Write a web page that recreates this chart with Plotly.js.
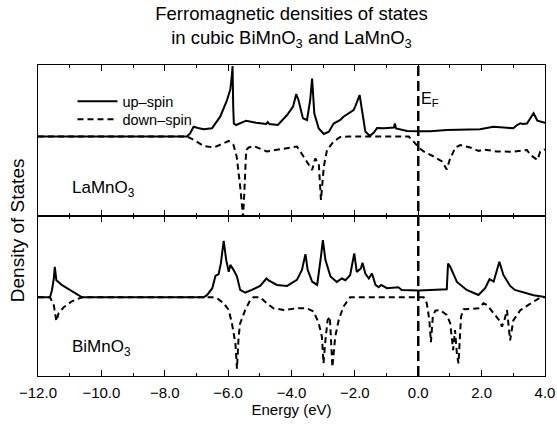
<!DOCTYPE html>
<html>
<head>
<meta charset="utf-8">
<script src="https://cdn.plot.ly/plotly-3.0.1.min.js"></script>
<style>html,body{margin:0;padding:0;background:#fff;}#chart{width:557px;height:424px;}</style>
</head>
<body>
<div id="chart"></div>
<script>
// ---- Data (energy in eV, density in arbitrary units; down-spin drawn negative) ----
const laUpE = [-12,-7.3,-7.2,-7.09,-6.95,-6.77,-6.51,-6.25,-6.05,-5.93,-5.88,-5.86,-5.84,-5.82,-5.75,-5.43,-5.12,-4.8,-4.75,-4.7,-4.43,-4.14,-3.95,-3.85,-3.78,-3.64,-3.51,-3.41,-3.35,-3.28,-3.14,-2.98,-2.82,-2.67,-2.46,-2.36,-2.04,-1.99,-1.85,-1.78,-1.67,-1.53,-1.4,-1.3,-1.09,-0.77,-0.74,-0.7,-0.35,0.02,0.38,0.9,1.43,1.95,2.37,3.0,3.1,3.22,3.3,3.43,3.64,3.76,4.0];
const laUp  = [0,0,3,9.8,8.5,7.2,8.2,19.8,35,47,62,70.5,30,13,11.5,15.8,13.8,12.5,14.5,12.5,11.5,21.5,30,42.5,36.5,18.2,16.5,36.5,58,23,8,2.5,4.8,13,16.5,19.8,26.5,29.8,41.5,26.5,5,0.5,4,8.5,8.2,9,13,8,5.5,5.2,5.2,6.5,7.2,7.2,9.8,8.2,11,13.2,12.5,13,23.2,15.8,13.8];

const laDownE = [-12,-7.3,-7.09,-6.9,-6.77,-6.45,-6.25,-5.98,-5.83,-5.73,-5.62,-5.53,-5.49,-5.43,-5.35,-5.2,-4.78,-4.46,-3.93,-3.83,-3.62,-3.35,-3.25,-3.14,-3.07,-2.98,-2.88,-2.67,-2.46,-2.2,-0.3,-0.25,-0.08,0.02,0.17,0.49,0.75,0.9,0.99,1.17,1.33,1.64,1.9,2.06,2.48,3.0,3.43,3.54,3.76,3.85,4.0];
const laDown  = [0,0,-3.3,-7,-9.5,-11,-8.5,-4.5,-8.5,-20,-50,-80,-57,-13.5,-11,-9.5,-15,-13.5,-11,-10,-20,-33.5,-22,-27,-63.5,-30,-13.5,-5,-0.5,0,0,-1.8,-7,-11,-15,-20,-25,-33,-23.5,-11,-8.5,-11,-14.5,-13,-15,-15.2,-13.5,-18.5,-23.5,-15,-12.8];

const biUpE = [-12,-11.62,-11.56,-11.5,-11.47,-11.42,-11.24,-10.98,-10.61,-6.77,-6.66,-6.5,-6.4,-6.3,-6.23,-6.14,-6.06,-5.98,-5.93,-5.83,-5.72,-5.62,-5.46,-5.25,-4.99,-4.79,-4.72,-4.46,-4.14,-3.83,-3.67,-3.56,-3.49,-3.35,-3.19,-3.07,-3.01,-2.93,-2.77,-2.57,-2.41,-2.3,-2.15,-2.02,-1.94,-1.81,-1.76,-1.67,-1.56,-1.46,-1.35,-1.25,-1.17,-0.99,-0.63,-0.52,0.02,0.38,0.9,0.94,1.01,1.22,1.53,1.9,2.11,2.25,2.38,2.56,2.69,2.9,3.05,3.64,4.0];
const biUp  = [0,0,7,18.7,30.3,17,12,7,0,0,2.3,9,21.3,23,33.7,56.3,37,25.3,32.3,27.3,20.7,7.3,4.7,7.3,11.3,18.7,16.7,12.3,11.3,17.3,27.3,43,27.3,15.7,12.3,40.7,57,37.3,20.7,15.3,18.7,17,22,43.7,25.3,28.7,34.3,23.7,18.7,23.7,12.3,10,12.3,9,10,7.3,6.7,7.3,8,33.7,30.3,15.3,7.3,2.3,9,18,15.7,35.3,22,11.3,7.3,2,0.3];

const biDownE = [-12,-11.62,-11.5,-11.42,-11.35,-11.19,-10.93,-10.61,-6.5,-6.35,-6.14,-5.98,-5.88,-5.77,-5.72,-5.67,-5.62,-5.46,-5.3,-5.2,-4.99,-4.78,-4.57,-4.25,-3.83,-3.51,-3.3,-3.14,-3.04,-2.99,-2.93,-2.86,-2.79,-2.71,-2.62,-2.51,-2.36,-2.15,0.17,0.27,0.35,0.4,0.46,0.54,0.69,0.9,1.01,1.1,1.16,1.22,1.27,1.35,1.43,1.74,1.9,2.06,2.17,2.38,2.59,2.64,2.72,2.8,2.9,3.0,3.22,3.54,3.85,4.0];
const biDown  = [0,0,-8,-24,-16,-10,-4,0,0,-1,-6,-12.7,-26,-46,-71.3,-39.7,-26,-12.7,-2.7,0,0,-6,-11,-12.7,-11,-11,-14.3,-26,-39.3,-66,-43,-22.7,-19.3,-69.7,-39.3,-22.7,-9.3,0,0,-6,-22.7,-44.7,-19.3,-13.3,-12.7,-17.7,-26,-52.7,-32.7,-56.3,-66,-19.3,-12,-11,-11,-6,-7.7,-16,-24.3,-29.3,-22.7,-12.7,-43,-23,-13,-6.3,-0.3,0];

const fermiEnergy = 0;
const seriesNames = ['up\u2013spin', 'down\u2013spin'];
const panelLabels = ['LaMnO<sub>3</sub>', 'BiMnO<sub>3</sub>'];
const xTicks = [-12,-10,-8,-6,-4,-2,0,2,4];
const xTickText = ['\u221212.0','\u221210.0','\u22128.0','\u22126.0','\u22124.0','\u22122.0','0.0','2.0','4.0'];

// ---- Styles ----
const FONT = 'Arial, "Liberation Sans", Helvetica, sans-serif';
const solid = {color:'#000', width:2};
const dashed = {color:'#000', width:2, dash:'6px,4px'};

const traces = [
  {x: laUpE, y: laUp, xaxis:'x2', yaxis:'y2', mode:'lines', line: solid, name: seriesNames[0], showlegend:true, legend:'legend'},
  {x: laDownE, y: laDown, xaxis:'x2', yaxis:'y2', mode:'lines', line: dashed, name: seriesNames[1], showlegend:true, legend:'legend2'},
  {x: biUpE, y: biUp, xaxis:'x', yaxis:'y', mode:'lines', line: solid, name: seriesNames[0], showlegend:false},
  {x: biDownE, y: biDown, xaxis:'x', yaxis:'y', mode:'lines', line: dashed, name: seriesNames[1], showlegend:false}
];

const split = 0.5145;
const xCommon = {
  range:[-12,4], tickmode:'array', tickvals:xTicks, ticktext:xTickText,
  ticks:'inside', ticklen:6, tickwidth:1, tickcolor:'#000',
  minor:{dtick:1, tick0:-12, ticks:'inside', ticklen:3, tickwidth:1, tickcolor:'#000'},
  showline:true, linecolor:'#000', linewidth:1, mirror:'allticks',
  showgrid:false, zeroline:false, fixedrange:true
};
const yCommon = {
  showline:true, linecolor:'#000', linewidth:1, mirror:true,
  ticks:'', showticklabels:false, showgrid:false, zeroline:false, fixedrange:true
};
const legendCommon = {xanchor:'left', yanchor:'top', bgcolor:'rgba(0,0,0,0)', borderwidth:0,
                      font:{family:FONT, size:14.5, color:'#000'}, itemwidth:40};

const layout = {
  width:557, height:424,
  margin:{l:38, r:12, t:65, b:48},
  paper_bgcolor:'#fff', plot_bgcolor:'#fff',
  font:{family:FONT, color:'#000', size:15},
  title:{text:'Ferromagnetic densities of states<br>in cubic BiMnO<sub>3</sub> and LaMnO<sub>3</sub>',
         font:{family:FONT, size:18.5, color:'#000'}, x:0.5, xref:'paper', yref:'container', y:0.952, yanchor:'middle'},
  xaxis: Object.assign({}, xCommon, {anchor:'y', domain:[0,1], ticklabelstandoff:3,
         tickfont:{family:FONT, size:15, color:'#000'},
         title:{text:'Energy (eV)', font:{family:FONT, size:15, color:'#000'}, standoff:4}}),
  xaxis2: Object.assign({}, xCommon, {anchor:'y2', domain:[0,1], matches:'x', showticklabels:false}),
  yaxis: Object.assign({}, yCommon, {domain:[0, split], range:[-78.5, 81]}),
  yaxis2: Object.assign({}, yCommon, {domain:[split, 1], range:[-79.5, 71.5]}),
  showlegend:true,
  legend: Object.assign({}, legendCommon, {x:0.068, y:0.935}),
  legend2: Object.assign({}, legendCommon, {x:0.068, y:0.877}),
  shapes:[
    {type:'line', xref:'x', yref:'paper', x0:fermiEnergy, x1:fermiEnergy, y0:0, y1:1,
     line:{color:'#000', width:2.5, dash:'10px,5px'}, layer:'above'}
  ],
  annotations:[
    {text:'E<sub>F</sub>', xref:'x', yref:'paper', x:fermiEnergy, y:0.89, xanchor:'left', yanchor:'middle',
     showarrow:false, xshift:1, font:{family:FONT, size:16, color:'#000'}},
    {text:panelLabels[0], xref:'paper', yref:'paper', x:0.063, y:0.6, xanchor:'left', yanchor:'middle',
     showarrow:false, font:{family:FONT, size:17, color:'#000'}},
    {text:panelLabels[1], xref:'paper', yref:'paper', x:0.063, y:0.09, xanchor:'left', yanchor:'middle',
     showarrow:false, font:{family:FONT, size:17, color:'#000'}},
    {text:'Density of States', xref:'paper', yref:'paper', x:-0.04, y:0.468, xanchor:'center', yanchor:'middle',
     textangle:-90, showarrow:false, font:{family:FONT, size:19, color:'#000'}}
  ]
};

Plotly.newPlot('chart', traces, layout, {displayModeBar:false, staticPlot:true});
</script>
</body>
</html>
